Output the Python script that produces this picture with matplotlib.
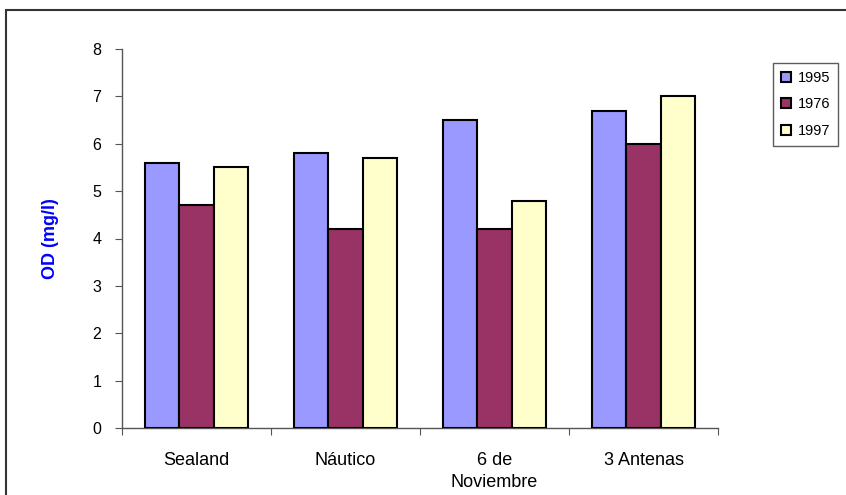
import matplotlib
matplotlib.use("Agg")
import matplotlib.pyplot as plt
from matplotlib.patches import Rectangle
import numpy as np

categories = ["Sealand", "Náutico", "6 de\nNoviembre", "3 Antenas"]
series_names = ["1995", "1976", "1997"]
v1995 = [5.6, 5.8, 6.5, 6.7]
v1976 = [4.7, 4.2, 4.2, 6.0]
v1997 = [5.5, 5.7, 4.8, 7.0]
colors = ["#9999FF", "#993366", "#FFFFCC"]

plt.rcParams['font.family'] = ['Liberation Sans', 'DejaVu Sans']

fig = plt.figure(figsize=(8.46, 4.95), dpi=100)
ax = fig.add_axes([122/846, 1-428/495, (718-122)/846, (428-49)/495])

# outer chart border
fig.patches.append(Rectangle((6/846, -0.2), 1.2, 1.2 - 10/495, transform=fig.transFigure,
                             fill=False, edgecolor="#333333", linewidth=1.5, zorder=0))

x = np.arange(len(categories)) + 0.5
w = 0.23
for i, (vals, name) in enumerate(zip([v1995, v1976, v1997], series_names)):
    ax.bar(x + (i - 1) * w, vals, width=w, color=colors[i], edgecolor="black",
           linewidth=1.5, label=name, zorder=3)

ax.set_xlim(0, 4)
ax.set_ylim(0, 8)
ax.set_yticks(range(0, 9))
ax.set_xticks(range(0, 5))
ax.set_xticklabels([])
ax.set_xticks(x, minor=True)
ax.set_xticklabels(categories, minor=True, fontsize=13, linespacing=1.45)
ax.tick_params(axis='x', which='minor', length=0, pad=17)
ax.tick_params(axis='x', which='major', length=5, direction='out', color="#555555")
ax.tick_params(axis='y', length=5, direction='out', labelsize=11.5, pad=10, color="#555555")

for s in ["top", "right"]:
    ax.spines[s].set_visible(False)
for s in ["left", "bottom"]:
    ax.spines[s].set_color("#555555")
    ax.spines[s].set_linewidth(1.0)

ax.set_ylabel("OD (mg/l)", color="#0000FF", fontweight="bold", fontsize=13, labelpad=24)

leg = fig.legend(loc="upper left", bbox_to_anchor=(773/846, 1-63/495), fontsize=10.5,
                 frameon=True, fancybox=False, edgecolor="#333333",
                 handlelength=0.65, handleheight=0.65, handletextpad=0.5,
                 borderpad=0.55, labelspacing=0.85, borderaxespad=0)
leg.get_frame().set_linewidth(1.0)

fig.savefig("out.png", dpi=100)
